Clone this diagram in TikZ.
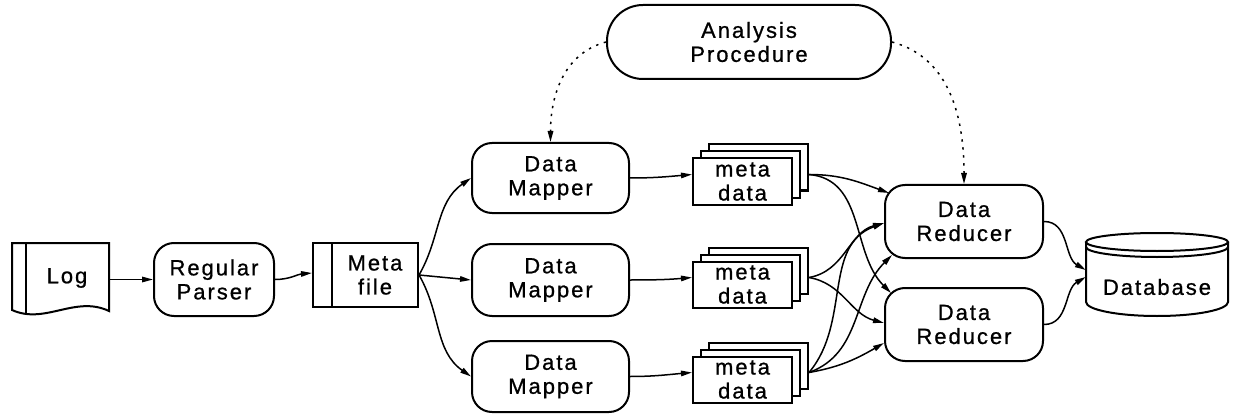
\documentclass[tikz,border=0pt]{standalone}
\usepackage{fontspec}
\setmainfont{Liberation Sans}[LetterSpace=9,FakeBold=0.8]
\usetikzlibrary{arrows.meta,calc}
\begin{document}
\begin{tikzpicture}[x=1pt,y=-1pt]
\tikzset{
 every node/.style={font=\fontsize{22pt}{24pt}\selectfont, inner sep=0pt, align=center},
 boxline/.style={line width=2pt},
 proc/.style={draw, boxline, rounded corners=20pt, fill=white},
 sheet/.style={draw, boxline, fill=white, minimum width=99pt, minimum height=46pt},
 conn/.style={line width=1.5pt, -{Triangle[length=11pt,width=5.5pt]}},
 dotconn/.style={conn, dash pattern=on 2.4pt off 5.6pt},
}
\useasboundingbox (0,0) rectangle (1233,414);

% Log (document shape)
\node[minimum width=97pt, minimum height=67pt] (log) at (60.5,276.5) {};
\draw[boxline] (12,243) -- (109,243) -- (109,311) .. controls (75,295) and (45,325) .. (12,310) -- cycle;
\draw[boxline] (26,243) -- (26,314);
\node (logtxt) at (67,278) {Log};

% Regular Parser
\node[proc, minimum width=120pt, minimum height=73pt] (parser) at (214,279.5) {Regular\\Parser};

% Meta file
\node[draw, boxline, minimum width=105pt, minimum height=64pt] (metafile) at (365.5,275) {};
\draw[boxline] (332,243) -- (332,307);
\node (mftxt) at (375,275) {Meta\\file};

% Data Mappers
\node[proc, minimum width=157pt, minimum height=70pt] (m1) at (550.5,178) {Data\\Mapper};
\node[proc, minimum width=157pt, minimum height=72pt] (m2) at (550.5,280) {Data\\Mapper};
\node[proc, minimum width=157pt, minimum height=71pt] (m3) at (550.5,376.5) {Data\\Mapper};

% meta data stacks
\node[sheet] (md1c) at (758.5,167.5) {};
\node[sheet] (md1b) at (750.5,174.5) {};
\node[sheet] (md1a) at (742.5,181.5) {meta\\data};
\node[sheet] (md2c) at (758.5,270.5) {};
\node[sheet] (md2b) at (750.5,277.5) {};
\node[sheet] (md2a) at (742.5,284.5) {meta\\data};
\node[sheet] (md3c) at (758.5,365.5) {};
\node[sheet] (md3b) at (750.5,372.5) {};
\node[sheet] (md3a) at (742.5,379.5) {meta\\data};

% Data Reducers
\node[proc, minimum width=158pt, minimum height=73pt] (r1) at (964,221.5) {Data\\Reducer};
\node[proc, minimum width=158pt, minimum height=73pt] (r2) at (964,324.5) {Data\\Reducer};

% Analysis Procedure
\node[draw, boxline, rounded corners=36pt, minimum width=284pt, minimum height=74pt] (ana) at (749,42) {Analysis\\Procedure};

% Database
\node[minimum width=142pt, minimum height=84pt] (db) at (1157,275) {};
\draw[boxline] (1157,242) ellipse [x radius=71pt, y radius=9pt];
\draw[boxline] (1086,247) arc[start angle=180, end angle=360, x radius=71pt, y radius=10pt];
\draw[boxline] (1086,242) -- (1086,302) arc[start angle=180, end angle=360, x radius=71pt, y radius=14pt] -- (1228,242);
\node (dbtxt) at (1157,287) {Database};

% connectors
\draw[conn] (log.east |- parser.west) -- (parser.west);
\draw[conn] (parser.east) to[out=0,in=185] ($(metafile.west)+(0,-2)$);
\draw[conn] (metafile.east) to[out=60,in=215] (m1.west);
\draw[conn] (metafile.east) -- (m2.west);
\draw[conn] (metafile.east) to[out=-60,in=145] (m3.west);

\draw[conn] (m1.east) to[out=0,in=185] ($(md1a.west)+(0,-7)$);
\draw[conn] (m2.east) to[out=0,in=185] ($(md2a.west)+(0,-7)$);
\draw[conn] (m3.east) to[out=0,in=185] ($(md3a.west)+(0,-7)$);

\coordinate (s1) at ($(md1c.east)+(0,7)$);
\coordinate (s2) at ($(md2c.east)+(0,7)$);
\coordinate (s3) at ($(md3c.east)+(0,7)$);

\draw[conn] (s1) to[out=0,in=160] ($(r1.north west)+(5,9)$);
\draw[conn] (s1) to[out=-5,in=135] ($(r2.north west)+(7,6)$);
\draw[conn] (s2) to[out=10,in=195] ($(r1.west)+(0,1.5)$);
\draw[conn] (s2) to[out=-10,in=165] ($(r2.west)+(0,-1.5)$);
\draw[conn] (s3) to[out=50,in=200] ($(r1.west)+(0,1.5)$);
\draw[conn] (s3) to[out=20,in=225] ($(r1.south west)+(8,-4)$);
\draw[conn] (s3) to[out=10,in=210] ($(r2.west)+(0,18.5)$);

\draw[conn] (r1.east) to[out=0,in=150] ($(db.west)+(0,-5)$);
\draw[conn] (r2.east) to[out=0,in=210] ($(db.west)+(0,2)$);

\draw[dotconn] (ana.west) to[out=195,in=90] (m1.north);
\draw[dotconn] (ana.east) to[out=-15,in=90] (r1.north);
\end{tikzpicture}
\end{document}
